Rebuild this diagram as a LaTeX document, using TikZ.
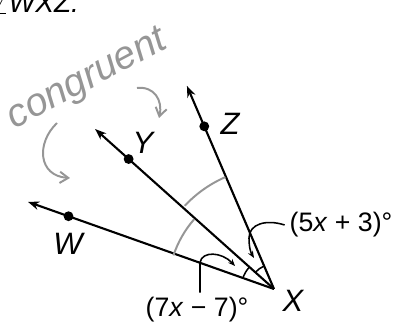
\documentclass[tikz,border=0pt]{standalone}
\usepackage{fontspec}
\setmainfont{Liberation Sans}
\definecolor{inkgray}{RGB}{150, 150, 150}
\usetikzlibrary{arrows.meta, calc}

\begin{document}
\begin{tikzpicture}[
  x=0.025cm, y=0.025cm,
  ray/.style={line width=1.5pt, -{Stealth[length=8pt, width=6pt]}},
  dot/.style={circle, fill=black, inner sep=0pt, minimum size=7pt},
  ptlabel/.style={font=\fontsize{22}{22}\selectfont\itshape},
  exlabel/.style={font=\fontsize{19}{19}\selectfont},
  lead/.style={line width=1.1pt, -{Stealth[length=5pt, width=4pt]}},
  anglemark/.style={line width=1.1pt},
  hand/.style={inkgray, line width=1.4pt}
]
  \useasboundingbox (0,0) rectangle (404,-328);

  % heading, cut at the left edge
  \node[anchor=base east, font=\fontsize{20}{20}\selectfont\itshape] (head) at (84,-13) {$\angle$WXZ.};

  % the vertex and the three rays
  \coordinate (X) at (274,-289);
  \coordinate (Wtip) at ($(X)+(160.5:261)$);
  \coordinate (Ytip) at ($(X)+(138.2:240)$);
  \coordinate (Ztip) at ($(X)+(113.2:221)$);
  \draw[ray] (X) -- (Wtip);
  \draw[ray] (X) -- (Ytip);
  \draw[ray] (X) -- (Ztip);

  \node[dot] (W) at ($(X)+(160.5:218)$) {};
  \node[dot] (Y) at ($(X)+(138.2:195)$) {};
  \node[dot] (Z) at ($(X)+(113.2:177)$) {};

  \node[ptlabel] (Wlab) at (68,-244) {W};
  \node[ptlabel] (Ylab) at (143,-143) {Y};
  \node[ptlabel] (Zlab) at (230,-124) {Z};
  \node[ptlabel] (Xlab) at (293,-301) {X};

  % angle marks at X
  \draw[anglemark] ($(X)+(160.5:33)$) arc[start angle=160.5, end angle=138.2, radius=0.82cm];
  \draw[anglemark] ($(X)+(138.2:25)$) arc[start angle=138.2, end angle=113.2, radius=0.62cm];

  % measures
  \node[exlabel] (e7) at (197,-310) {(7\textit{x} − 7)°};
  \node[exlabel] (e5) at (341,-225) {(5\textit{x} + 3)°};
  \coordinate (a7) at (235,-266);
  \coordinate (a5) at (254,-258);
  \draw[lead] ($(e7.north)+(3,0)$) -- ++(0,30) .. controls +(2,12) and (222,-252) .. (a7);
  \draw[lead] (e5.west) .. controls (266,-219) and (249,-224) .. (249,-238) .. controls (249,-248) and (251,-253) .. (a5);

  % congruent notes
  \draw[hand] ($(X)+(161.5:106)$) arc[start angle=161.5, end angle=139, radius=2.65cm];
  \draw[hand] ($(X)+(137:122)$) arc[start angle=137, end angle=113.5, radius=3.05cm];
  \node[inkgray, rotate=28, anchor=base, font=\fontsize{28}{28}\selectfont\itshape] (cong) at (92,-88) {congruent};
  \coordinate (c1) at (57,-123);
  \coordinate (c2) at (70,-178);
  \coordinate (c3) at (137,-88);
  \coordinate (c4) at (159,-118);
  \draw[hand, -{Straight Barb[length=6pt, width=8pt]}] (c1) .. controls (36,-143) and (38,-176) .. (c2);
  \draw[hand, -{Straight Barb[length=6pt, width=8pt]}] (c3) .. controls (154,-86) and (163,-100) .. (c4);
\end{tikzpicture}
\end{document}
